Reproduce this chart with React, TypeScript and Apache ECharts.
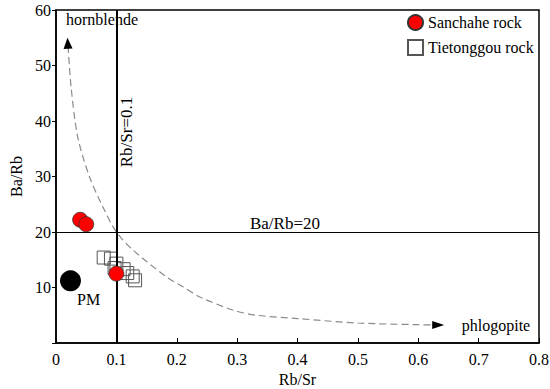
import React, { useEffect, useRef } from "react";
import * as echarts from "echarts";

const xTicks = [0, 0.1, 0.2, 0.3, 0.4, 0.5, 0.6, 0.7, 0.8];
const sanchahe: number[][] = [
  [0.04, 22.2],
  [0.05, 21.4],
  [0.1, 12.5],
];
const tietonggou: number[][] = [
  [0.079, 15.4],
  [0.091, 15.2],
  [0.1, 14.3],
  [0.097, 13.5],
  [0.112, 13.3],
  [0.118, 12.6],
  [0.127, 12.0],
  [0.131, 11.3],
];
const pm: number[][] = [[0.024, 11.2]];
const trendCurve: number[][] = [
  [0.02, 53.5],
  [0.025, 46.1],
  [0.036, 37.1],
  [0.0556, 29.9],
  [0.0777, 24.5],
  [0.1, 20.0],
  [0.128, 16.7],
  [0.183, 11.9],
  [0.211, 10.1],
  [0.238, 8.3],
  [0.294, 5.9],
  [0.332, 5.0],
  [0.4, 4.4],
  [0.5, 3.6],
  [0.6, 3.3],
  [0.628, 3.25],
];
const arrowHeads: { value: number[]; rot: number; size: number[] }[] = [
  { value: [0.0195, 54], rot: 3, size: [9, 11] },
  { value: [0.633, 3.25], rot: -90, size: [8, 12] },
];
const rbSrLine = 0.1;
const baRbLine = 20;

const FONT = "'Liberation Serif', 'Times New Roman', serif";

export default function App() {
  const ref = useRef<HTMLDivElement>(null);
  useEffect(() => {
    if (!ref.current) return;
    const chart = echarts.init(ref.current, null, { renderer: "svg" });
    chart.setOption({
      animation: false,
      backgroundColor: "#fff",
      textStyle: { fontFamily: FONT, color: "#000" },
      grid: {
        left: 56,
        right: 11,
        top: 10,
        bottom: 46,
        containLabel: false,
        outerBoundsMode: "none",
        show: true,
        borderColor: "#000",
        borderWidth: 1.5,
      },
      legend: {
        orient: "vertical",
        left: 402,
        top: 9,
        itemGap: 8,
        itemWidth: 15,
        itemHeight: 15,
        textStyle: { fontFamily: FONT, fontSize: 16, color: "#000" },
        data: ["Sanchahe rock", "Tietonggou rock"],
      },
      xAxis: {
        type: "value",
        min: 0,
        max: 0.8,
        interval: 0.1,
        name: "Rb/Sr",
        nameLocation: "middle",
        nameGap: 21,
        nameTextStyle: { fontFamily: FONT, fontSize: 16, color: "#000" },
        axisLine: { lineStyle: { color: "#000", width: 1.5 } },
        axisTick: { inside: true, length: 5, lineStyle: { color: "#000" } },
        axisLabel: {
          margin: 8,
          fontFamily: FONT,
          fontSize: 16,
          color: "#000",
          formatter: (v: number) => {
            const t = xTicks.find((x) => Math.abs(x - v) < 1e-6);
            return t === undefined ? "" : String(t);
          },
        },
        splitLine: { show: false },
      },
      yAxis: {
        type: "value",
        min: 0,
        max: 60,
        interval: 10,
        name: "Ba/Rb",
        nameLocation: "middle",
        nameGap: 30,
        nameTextStyle: { fontFamily: FONT, fontSize: 16, color: "#000" },
        axisLine: { lineStyle: { color: "#000", width: 1.5 } },
        axisTick: { length: 4, lineStyle: { color: "#000" } },
        axisLabel: {
          margin: 5,
          fontFamily: FONT,
          fontSize: 16,
          color: "#000",
          formatter: (v: number) => (v === 0 ? "" : String(v)),
        },
        splitLine: { show: false },
      },
      series: [
        {
          name: "curve",
          type: "line",
          data: trendCurve,
          smooth: 0.3,
          showSymbol: false,
          symbol: "none",
          silent: true,
          lineStyle: { color: "#8a8a8a", width: 1.2, type: [7, 4] },
          z: 1,
          markLine: {
            silent: true,
            symbol: "none",
            label: { show: false },
            data: [
              { xAxis: rbSrLine, lineStyle: { color: "#000", width: 2, type: "solid" } },
              { yAxis: baRbLine, lineStyle: { color: "#000", width: 1, type: "solid" } },
            ],
          },
        },
        {
          name: "arrows",
          type: "scatter",
          silent: true,
          data: arrowHeads.map((a) => ({
            value: a.value,
            symbolRotate: a.rot,
            symbolSize: a.size,
          })),
          symbol: "triangle",
          itemStyle: { color: "#000", opacity: 1 },
          z: 2,
        },
        {
          name: "PM",
          type: "scatter",
          data: pm,
          symbol: "circle",
          symbolSize: 21,
          itemStyle: { color: "#000", opacity: 1 },
          label: {
            show: true,
            position: [17, 21],
            formatter: "PM",
            fontFamily: FONT,
            fontSize: 16,
            color: "#000",
          },
          z: 3,
        },
        {
          name: "Tietonggou rock",
          type: "scatter",
          data: tietonggou,
          symbol: "rect",
          symbolSize: 13,
          itemStyle: {
            color: "rgba(255,255,255,0)",
            borderColor: "#555",
            borderWidth: 1,
            opacity: 1,
          },
          z: 4,
        },
        {
          name: "Sanchahe rock",
          type: "scatter",
          data: sanchahe,
          symbol: "circle",
          symbolSize: 15,
          itemStyle: { color: "#ff0000", borderColor: "#333", borderWidth: 0.8, opacity: 1 },
          z: 5,
        },
      ],
      graphic: [
        {
          type: "text",
          left: 66,
          top: 11,
          style: { text: "hornblende", fontFamily: FONT, fontSize: 16, fill: "#000" },
        },
        {
          type: "text",
          x: 126,
          y: 132,
          rotation: Math.PI / 2,
          style: {
            text: "Rb/Sr=0.1",
            fontFamily: FONT,
            fontSize: 17,
            fill: "#000",
            align: "center",
            verticalAlign: "middle",
          },
        },
        {
          type: "text",
          x: 285,
          y: 223,
          style: {
            text: "Ba/Rb=20",
            fontFamily: FONT,
            fontSize: 17,
            fill: "#000",
            align: "center",
            verticalAlign: "middle",
          },
        },
        {
          type: "text",
          x: 496,
          y: 325,
          style: {
            text: "phlogopite",
            fontFamily: FONT,
            fontSize: 16,
            fill: "#000",
            align: "center",
            verticalAlign: "middle",
          },
        },
      ],
    });
    return () => chart.dispose();
  }, []);
  return (
    <div
      ref={ref}
      style={{ position: "fixed", left: 0, top: 0, width: 550, height: 389 }}
    />
  );
}
